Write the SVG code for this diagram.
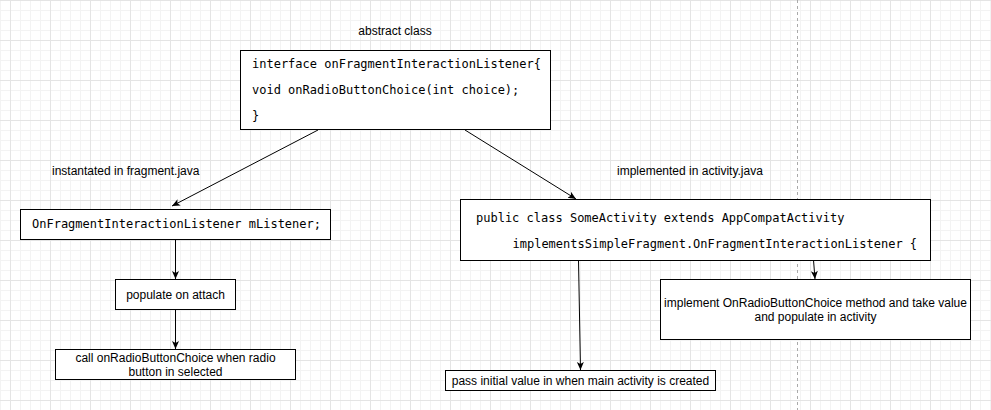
<svg xmlns="http://www.w3.org/2000/svg" width="991" height="410" viewBox="0 0 991 410">
<defs>
<pattern id="grid" x="10" y="0" width="40" height="40" patternUnits="userSpaceOnUse">
<path d="M10.5,0V40M20.5,0V40M30.5,0V40M0,10.5H40M0,20.5H40M0,30.5H40" stroke="#f3f3f3" stroke-width="1" fill="none"/>
<path d="M0.5,0V40M0,0.5H40" stroke="#e4e4e4" stroke-width="1" fill="none"/>
</pattern>
<marker id="arr" markerUnits="userSpaceOnUse" markerWidth="10" markerHeight="10" refX="8" refY="3.5" orient="auto">
<path d="M0,0 L8,3.5 L0,7 L2,3.5 z" fill="#000"/>
</marker>
<style>
.box{fill:#fff;stroke:#000;stroke-width:1}
.code{font-family:"DejaVu Sans Mono","Liberation Mono",monospace;font-size:12px;fill:#000}
.lbl{font-family:"Liberation Sans",Arial,sans-serif;font-size:12px;fill:#000}
.c{text-anchor:middle}
.edge{stroke:#000;stroke-width:1;fill:none;marker-end:url(#arr)}
</style>
</defs>
<rect x="0" y="0" width="991" height="410" fill="#fff"/>
<rect x="0" y="0" width="991" height="410" fill="url(#grid)"/>
<line x1="797.5" y1="0" x2="797.5" y2="410" stroke="#aaaaaa" stroke-width="1" stroke-dasharray="3 3"/>

<g id="connectors">
<path class="edge" d="M318,130 L172,206"/>
<path class="edge" d="M465,130 L576,199"/>
<path class="edge" d="M175.5,240 L175.5,279"/>
<path class="edge" d="M175.5,310 L175.5,349"/>
<path class="edge" d="M578.5,260 L580.5,370"/>
<path class="edge" d="M813.5,260 L815,279"/>
</g>

<g id="label-abstract"><text class="lbl c" x="395" y="35">abstract class</text></g>
<g id="label-instantiated"><text class="lbl" x="52" y="175">instantated in fragment.java</text></g>
<g id="label-implemented"><text class="lbl" x="617" y="175">implemented in activity.java</text></g>

<g id="interface">
<rect class="box" x="240.5" y="50.5" width="310" height="79"/>
<text class="code" x="252" y="68">interface onFragmentInteractionListener{</text>
<text class="code" x="252" y="94">void onRadioButtonChoice(int choice);</text>
<text class="code" x="252" y="120">}</text>
</g>

<g id="listener-field">
<rect class="box" x="20.5" y="209.5" width="310" height="30"/>
<text class="code" x="32" y="228">OnFragmentInteractionListener mListener;</text>
</g>

<g id="populate">
<rect class="box" x="115.5" y="279.5" width="120" height="30"/>
<text class="lbl c" x="175.5" y="298.5">populate on attach</text>
</g>

<g id="call">
<rect class="box" x="55.5" y="349.5" width="240" height="30"/>
<text class="lbl c" x="175.5" y="362">call onRadioButtonChoice when radio</text>
<text class="lbl c" x="175.5" y="375.5">button in selected</text>
</g>

<g id="activity">
<rect class="box" x="460.5" y="199.5" width="470" height="61"/>
<text class="code" x="476" y="222">public class SomeActivity extends AppCompatActivity</text>
<text class="code" x="512.5" y="248">implementsSimpleFragment.OnFragmentInteractionListener {</text>
</g>

<g id="implement">
<rect class="box" x="660.5" y="279.5" width="310" height="60"/>
<text class="lbl c" x="815.5" y="307">implement OnRadioButtonChoice method and take value</text>
<text class="lbl c" x="815.5" y="321">and populate in activity</text>
</g>

<g id="pass">
<rect class="box" x="445.5" y="370.5" width="270" height="20"/>
<text class="lbl c" x="580.5" y="384.5">pass initial value in when main activity is created</text>
</g>
</svg>
